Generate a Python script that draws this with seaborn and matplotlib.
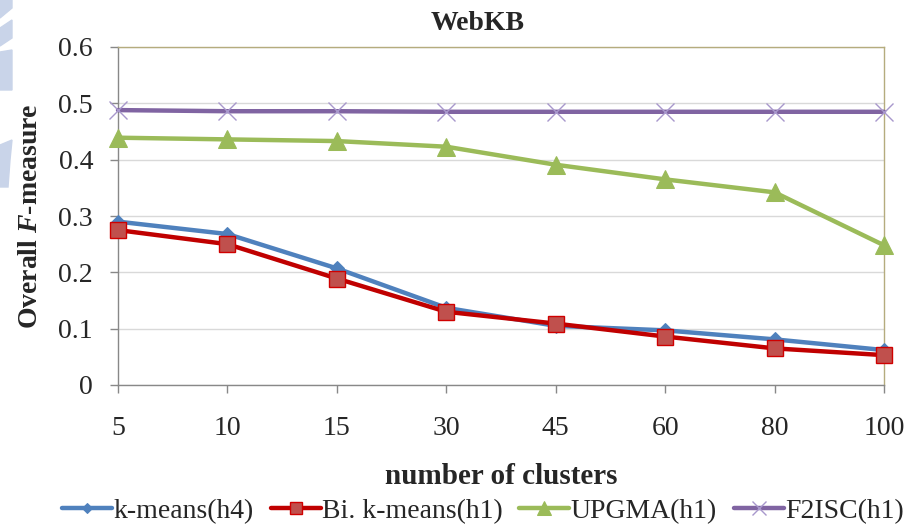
import matplotlib
matplotlib.use("Agg")
import matplotlib.pyplot as plt
from matplotlib.patches import Polygon
import seaborn as sns
import pandas as pd

categories = ["5", "10", "15", "30", "45", "60", "80", "100"]
kmeans_h4 = [0.290, 0.268, 0.207, 0.137, 0.105, 0.097, 0.081, 0.062]
bikmeans_h1 = [0.275, 0.250, 0.189, 0.130, 0.109, 0.086, 0.065, 0.053]
upgma_h1 = [0.439, 0.436, 0.433, 0.423, 0.391, 0.365, 0.342, 0.248]
f2isc_h1 = [0.488, 0.486, 0.486, 0.485, 0.485, 0.485, 0.485, 0.485]
series_names = ["k-means(h4)", "Bi. k-means(h1)", "UPGMA(h1)", "F2ISC(h1)"]
yticks = [0, 0.1, 0.2, 0.3, 0.4, 0.5, 0.6]
ytick_labels = ["0", "0.1", "0.2", "0.3", "0.4", "0.5", "0.6"]

sns.set_theme(style="white")
plt.rcParams["font.family"] = ["Liberation Serif", "DejaVu Serif"]
plt.rcParams["mathtext.fontset"] = "custom"
plt.rcParams["mathtext.it"] = "Liberation Serif:italic:bold"
plt.rcParams["mathtext.rm"] = "Liberation Serif:bold"

W, H = 916, 526
fig = plt.figure(figsize=(W / 100, H / 100), dpi=100)

# faint background watermark at the left edge
wm = "#C9D4E9"
def px(pts):
    return [(x / W, 1 - y / H) for x, y in pts]
for poly in [
    [(0, 0), (12, 0), (12, 8), (0, 18)],
    [(0, 28), (12, 20), (12, 38), (0, 46)],
    [(0, 52), (12, 50), (12, 90), (0, 90)],
    [(0, 145), (12, 140), (10, 160), (8, 187), (0, 187)],
]:
    fig.patches.append(Polygon(px(poly), closed=True, color=wm, transform=fig.transFigure, zorder=0))

ax = fig.add_axes([118 / W, 1 - 385 / H, (884 - 118) / W, (385 - 47) / H])

idx = list(range(len(categories)))
values = [kmeans_h4, bikmeans_h1, upgma_h1, f2isc_h1]
styles = [
    dict(color="#4F81BD", marker="D", markersize=7, markerfacecolor="#4F81BD", markeredgecolor="#4F81BD", lw=3.2),
    dict(color="#C00000", marker="s", markersize=12, markerfacecolor="#C0504D", markeredgecolor="#D00000", markeredgewidth=1.0, lw=3.2),
    dict(color="#9BBB59", marker="^", markersize=13, markerfacecolor="#9BBB59", markeredgecolor="#9BBB59", lw=3.2),
    dict(color="#8064A2", marker="x", markersize=13, markeredgecolor="#A898CC", markeredgewidth=1.0, lw=3.2),
]
for name, vals, st in zip(series_names, values, styles):
    df = pd.DataFrame({"x": idx, "y": vals})
    sns.lineplot(data=df, x="x", y="y", ax=ax, label=name, clip_on=False, zorder=3, **st)

FS = 20
ax.set_xlim(0, len(categories) - 1)
ax.set_ylim(0, 0.6)
ax.set_xticks(idx)
ax.set_xticklabels(categories, fontsize=FS)
ax.set_yticks(yticks)
ax.set_yticklabels(ytick_labels, fontsize=FS)
ax.yaxis.grid(True, color="#D9D9D9", lw=1.0)
ax.xaxis.grid(False)
ax.set_axisbelow(True)

for s in ["left", "bottom"]:
    ax.spines[s].set_color("#888888")
    ax.spines[s].set_linewidth(1.0)
for s in ["top", "right"]:
    ax.spines[s].set_color("#B5AC7E")
    ax.spines[s].set_linewidth(1.0)

ax.tick_params(axis="x", which="both", direction="out", length=6, color="#888888", width=1, pad=16, bottom=True)
ax.tick_params(axis="y", which="both", direction="out", length=6, color="#888888", width=1, pad=12, left=True)

ax.set_title("WebKB", fontsize=20, fontweight="bold", pad=12, x=(478 - 118) / (884 - 118))
ax.set_xlabel("number of clusters", fontsize=21, fontweight="bold", labelpad=16)
ax.set_ylabel("Overall $F$-measure", fontsize=20, fontweight="bold", labelpad=11)

leg = ax.legend(loc="center", bbox_to_anchor=(483 / W, 1 - 511 / H), bbox_transform=fig.transFigure,
                ncol=4, frameon=False, fontsize=FS, handlelength=1.8, columnspacing=0.6,
                handletextpad=0.05, borderaxespad=0, borderpad=0)
for h in leg.legend_handles:
    h.set_markersize(h.get_markersize() * 0.75)

fig.savefig("out.png", dpi=100)
